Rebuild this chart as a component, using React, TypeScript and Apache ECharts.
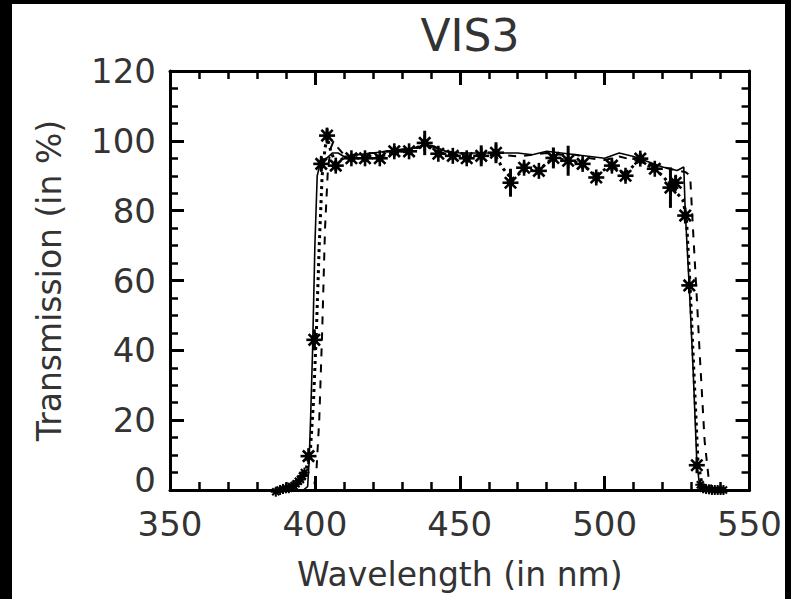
import React, { useEffect, useRef } from "react";
import * as echarts from "echarts";

// Theoretical curve (solid)
const solidWl = [385, 396, 397.5, 398, 398.5, 399.2, 400, 400.8, 402, 404, 406, 408, 410, 415, 420, 425, 430, 435, 438, 441, 445, 450, 455, 460, 465, 470, 475, 480, 485, 490, 495, 500, 505, 510, 515, 520, 525, 527.3, 527.8, 529.2, 530.5, 531.8, 532.8, 534, 545];
const solidT = [0, 0, 1, 8, 20, 40, 70, 90, 94, 95, 96.5, 96.5, 95.5, 96, 96.5, 97, 97.5, 98, 99, 98.5, 97, 96.5, 96.5, 96.5, 96.5, 96.5, 96, 97, 96.5, 96, 95.5, 95, 96.5, 95.5, 94, 92.5, 91.5, 92.5, 80, 58, 35, 8, 1, 0, 0];

// Dotted curve
const dottedWl = [386, 392, 395, 397, 398.5, 399.5, 400.5, 401.5, 402.5, 403.5, 404.3, 405.5, 407, 410, 413, 417, 422, 427, 432, 438, 443, 448, 452, 457, 462, 465, 468, 472, 477, 482, 487, 492, 497, 502, 507, 512, 517, 520, 523, 525, 527, 528.2, 529.5, 531, 532.2, 533.5, 536];
const dottedT = [0, 1, 2.5, 6, 12, 25, 45, 70, 90, 98, 101, 97, 94, 95, 95, 95.5, 95.5, 96.5, 97, 99, 96.5, 96, 95.5, 96, 96, 92, 89, 91.5, 91.5, 95, 94.5, 93.5, 90, 93, 90.5, 94.5, 92, 90, 87, 85, 83, 78, 58, 30, 8, 2, 0];

// Dashed curve
const dashedWl = [385, 399.5, 400.5, 401.5, 402.5, 403.5, 404.5, 405.5, 406.5, 408, 410, 415, 420, 425, 430, 435, 440, 445, 450, 455, 460, 465, 470, 475, 480, 485, 490, 495, 500, 505, 510, 515, 520, 525, 528, 529.5, 530.4, 531.8, 532.8, 534.5, 535.8, 537, 541];
const dashedT = [0, 0, 5, 20, 45, 75, 92, 98, 100, 98, 96, 96, 96.5, 97, 97.5, 98, 98.5, 97, 96.5, 96, 96.5, 96, 95.5, 96, 96.5, 96, 96, 95, 94.5, 95.5, 94.5, 93.5, 92.5, 91.5, 91, 90, 76, 55, 39, 14, 4, 0.5, 0];

// Measured points (asterisks) with error
const measWl = [397.8, 399.8, 402.2, 404.2, 407.2, 412.6, 417.3, 422.4, 427.4, 432.5, 437.9, 442.6, 447.6, 452.4, 457.4, 462.5, 467.5, 472.2, 477.3, 482.3, 487.4, 492.4, 497.1, 502.5, 507.2, 512.3, 517.3, 522.7, 524.5, 527.8, 529.2, 531.8];
const measT = [9.7, 43, 93.4, 101.5, 92.9, 95, 95, 95, 97, 97, 99.4, 96.3, 95.7, 95, 95.7, 96.6, 88, 92.3, 91.4, 95.1, 94.3, 93.4, 89.5, 92.9, 90, 94.9, 92, 86.6, 88, 78.6, 58.6, 7.1];
const measErr = [1, 3, 2, 2, 1.5, 1, 1, 1, 1.5, 1, 3.5, 1, 1, 1, 3, 3, 4, 1.5, 1, 3, 4.3, 1.5, 1.5, 1.5, 1.5, 1.5, 1, 5.8, 2, 1.5, 1, 1];

// Out-of-band points (small asterisks)
const edgeWl = [386.5, 388, 389, 390, 391, 392, 392.8, 393.5, 394.3, 395, 395.7, 396.4, 533, 534, 535, 536, 537, 538, 539, 540, 541];
const edgeT = [-0.5, 0, 0.3, 0.5, 0.5, 1, 1.2, 1.8, 2.5, 3, 4, 5, 1.5, 0.5, 0.3, 0.2, 0, 0, 0, 0, 0];

const xTicks = [350, 400, 450, 500, 550];
const yTicks = [0, 20, 40, 60, 80, 100, 120];

const FONT = "'DejaVu Sans', sans-serif";
const TXT = "#333";

function starRenderer(size: number, lw: number) {
  return (params: any, api: any) => {
    const x = api.value(0);
    const y = api.value(1);
    const e = api.value(2);
    const c = api.coord([x, y]);
    const r = size / 2;
    const d = r * 0.7071;
    const st = { stroke: "#000", lineWidth: lw };
    const children: any[] = [];
    if (e > 0) {
      const lo = api.coord([x, y - e]);
      const hi = api.coord([x, y + e]);
      children.push({ type: "line", shape: { x1: c[0], y1: lo[1], x2: c[0], y2: hi[1] }, style: { stroke: "#000", lineWidth: 3 } });
    }
    children.push({ type: "line", shape: { x1: c[0], y1: c[1] - r, x2: c[0], y2: c[1] + r }, style: st });
    children.push({ type: "line", shape: { x1: c[0] - r, y1: c[1], x2: c[0] + r, y2: c[1] }, style: st });
    children.push({ type: "line", shape: { x1: c[0] - d, y1: c[1] - d, x2: c[0] + d, y2: c[1] + d }, style: st });
    children.push({ type: "line", shape: { x1: c[0] - d, y1: c[1] + d, x2: c[0] + d, y2: c[1] - d }, style: st });
    children.push({ type: "circle", shape: { cx: c[0], cy: c[1], r: r * 0.35 }, style: { fill: "none", stroke: "#000", lineWidth: lw * 0.8 } });
    return { type: "group", children };
  };
}

export default function App() {
  const ref = useRef<HTMLDivElement>(null);
  useEffect(() => {
    if (!ref.current) return;
    const chart = echarts.init(ref.current, undefined, { renderer: "svg" });
    const axisLine = { show: true, onZero: false, lineStyle: { color: "#000", width: 3 } };
    const tick = (len: number) => ({ show: true, inside: true, length: len, lineStyle: { color: "#000", width: 3 } });
    const minor = (n: number, len: number) => ({ show: true, splitNumber: n, length: len, lineStyle: { color: "#000", width: 2.5 } });
    const label = { fontSize: 34, color: TXT, fontFamily: FONT };
    chart.setOption({
      animation: false,
      backgroundColor: "#fff",
      title: {
        text: "VIS3",
        left: 453,
        textAlign: "center",
        top: 4,
        textStyle: { fontSize: 44, fontWeight: "normal", color: TXT, fontFamily: FONT },
      },
      grid: { left: 158, right: 21, top: 67, bottom: 109 },
      xAxis: [
        {
          type: "value", min: xTicks[0], max: xTicks[xTicks.length - 1], interval: 50, position: "bottom",
          name: "Wavelength (in nm)", nameLocation: "middle", nameGap: 68,
          nameTextStyle: { fontSize: 33, color: TXT, fontFamily: FONT },
          axisLine, axisTick: tick(14), minorTick: minor(5, 8),
          splitLine: { show: false }, minorSplitLine: { show: false },
          axisLabel: { ...label, margin: 17, showMinLabel: true, showMaxLabel: true },
        },
        {
          type: "value", min: xTicks[0], max: xTicks[xTicks.length - 1], interval: 50, position: "top",
          axisLine, axisTick: tick(14), minorTick: minor(5, 8),
          splitLine: { show: false }, axisLabel: { show: false },
        },
      ],
      yAxis: [
        {
          type: "value", min: yTicks[0], max: yTicks[yTicks.length - 1], interval: 20, position: "left",
          name: "Transmission (in %)", nameLocation: "middle", nameGap: 104, nameRotate: 90,
          nameTextStyle: { fontSize: 33, color: TXT, fontFamily: FONT },
          axisLine, axisTick: tick(14), minorTick: minor(4, 8),
          splitLine: { show: false }, minorSplitLine: { show: false },
          axisLabel: {
            ...label, margin: 14,
            formatter: (v: number) => (v === 0 ? "{z|0}" : String(v)),
            rich: { z: { fontSize: 34, color: TXT, fontFamily: FONT, padding: [0, 0, 20, 0] } },
          },
        },
        {
          type: "value", min: yTicks[0], max: yTicks[yTicks.length - 1], interval: 20, position: "right",
          axisLine, axisTick: tick(14), minorTick: minor(4, 8),
          splitLine: { show: false }, axisLabel: { show: false },
        },
      ],
      series: [
        {
          type: "line", xAxisIndex: 0, yAxisIndex: 0, showSymbol: false, symbol: "none",
          data: solidWl.map((w, i) => [w, solidT[i]]),
          lineStyle: { color: "#000", width: 1.6 }, clip: false, z: 3,
        },
        {
          type: "line", xAxisIndex: 0, yAxisIndex: 0, showSymbol: false, symbol: "none",
          data: dottedWl.map((w, i) => [w, dottedT[i]]),
          lineStyle: { color: "#000", width: 3, type: [3, 4] }, clip: false, z: 3,
        },
        {
          type: "line", xAxisIndex: 0, yAxisIndex: 0, showSymbol: false, symbol: "none",
          data: dashedWl.map((w, i) => [w, dashedT[i]]),
          lineStyle: { color: "#000", width: 2, type: [8, 8] }, clip: false, z: 3,
        },
        {
          type: "custom", xAxisIndex: 0, yAxisIndex: 0,
          renderItem: starRenderer(16, 2.6),
          data: measWl.map((w, i) => [w, measT[i], measErr[i]]),
          encode: { x: 0, y: 1 }, clip: false, z: 4,
        },
        {
          type: "custom", xAxisIndex: 0, yAxisIndex: 0,
          renderItem: starRenderer(10, 2),
          data: edgeWl.map((w, i) => [w, edgeT[i], 0]),
          encode: { x: 0, y: 1 }, clip: false, z: 4,
        },
      ],
    });
    return () => chart.dispose();
  }, []);
  return (
    <div style={{ position: "fixed", left: 0, top: 0, width: 791, height: 599, background: "#000" }}>
      <div
        ref={ref}
        style={{ position: "absolute", left: 12, top: 4, width: 773, height: 595, background: "#fff", overflow: "hidden" }}
      />
    </div>
  );
}
